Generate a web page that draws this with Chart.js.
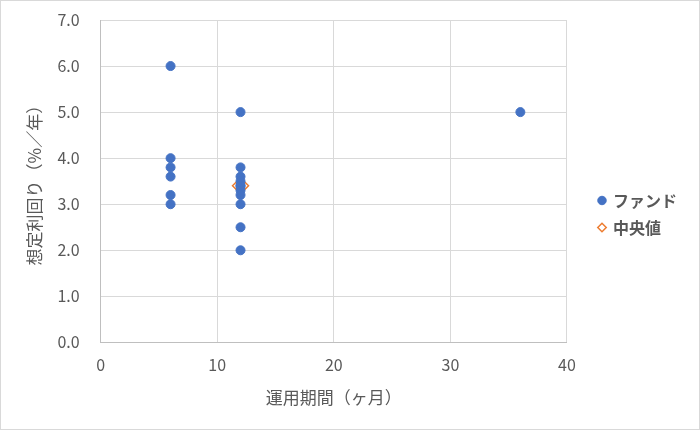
<!DOCTYPE html>
<html>
<head>
<meta charset="utf-8">
<script src="https://cdn.jsdelivr.net/npm/chart.js@4/dist/chart.umd.min.js"></script>
<style>
    html, body { margin: 0; padding: 0; background: #fff; }
    #wrap { position: relative; width: 698px; height: 428px; border: 1px solid #d9d9d9; }
</style>
</head>
<body>
<div id="wrap"><canvas id="chart"></canvas></div>
<script>
// 運用期間（ヶ月）と想定利回り
const fundMonths = [6, 6, 6, 6, 6, 6, 12, 12, 12, 12, 12, 12, 12, 12, 12, 12, 12, 36];
const fundYields = [6.0, 4.0, 3.8, 3.6, 3.2, 3.0, 5.0, 3.8, 3.6, 3.5, 3.4, 3.4, 3.3, 3.2, 3.0, 2.5, 2.0, 5.0];
const medianMonths = [12];
const medianYields = [3.4];
const seriesNames = ['ファンド', '中央値'];
const xTitle = '運用期間（ヶ月）';
const yTitle = '想定利回り（%／年）';

const font = "'Noto Sans CJK JP', 'Noto Sans', sans-serif";
const textColor = '#595959';

const toPoints = (xs, ys) => xs.map((x, i) => ({ x, y: ys[i] }));

// push the legend a bit to the right of where Chart.js puts it
const legendShift = {
    id: 'legendShift',
    afterLayout(chart) {
        if (chart.legend) {
            chart.legend.left += 21;
            chart.legend.right += 21;
            chart.legend.top -= 2;
            chart.legend.bottom -= 2;
        }
    },
};

new Chart(document.getElementById('chart').getContext('2d'), {
    type: 'scatter',
    data: {
        datasets: [
            {
                label: seriesNames[0],
                data: toPoints(fundMonths, fundYields),
                backgroundColor: '#4472C4',
                borderColor: '#4472C4',
                pointRadius: 4.5,
                pointHoverRadius: 4.5,
            },
            {
                label: seriesNames[1],
                data: toPoints(medianMonths, medianYields),
                pointStyle: 'rectRot',
                backgroundColor: 'rgba(255,255,255,0)',
                borderColor: '#ED7D31',
                borderWidth: 1.5,
                pointRadius: 8,
                pointHoverRadius: 8,
            },
        ],
    },
    plugins: [legendShift],
    options: {
        responsive: true,
        maintainAspectRatio: false,
        animation: false,
        layout: { padding: { left: 19, right: 33, top: 19, bottom: 17 } },
        plugins: {
            legend: {
                position: 'right',
                labels: {
                    usePointStyle: true,
                    boxWidth: 6,
                    boxHeight: 6,
                    padding: 11,
                    color: textColor,
                    font: { family: font, size: 16, weight: 'bold' },
                },
            },
            tooltip: { enabled: false },
        },
        scales: {
            x: {
                min: 0,
                max: 40,
                ticks: { stepSize: 10, padding: 13, color: textColor, font: { family: font, size: 16 } },
                grid: { color: '#d9d9d9', drawTicks: false },
                border: { color: '#bfbfbf' },
                title: {
                    display: true,
                    text: xTitle,
                    color: textColor,
                    font: { family: font, size: 17 },
                    padding: { top: 0 },
                },
            },
            y: {
                min: 0,
                max: 7,
                afterFit: (scale) => {
                    scale.paddingTop = 0;
                    scale.paddingBottom = 0;
                },
                ticks: {
                    stepSize: 1,
                    color: textColor,
                    padding: 21,
                    font: { family: font, size: 16 },
                    callback: (v) => v.toFixed(1),
                },
                grid: { color: '#d9d9d9', drawTicks: false },
                border: { color: '#bfbfbf' },
                title: {
                    display: true,
                    text: yTitle,
                    color: textColor,
                    font: { family: font, size: 17 },
                    padding: { top: 4, bottom: -8 },
                },
            },
        },
    },
});
</script>
</body>
</html>
